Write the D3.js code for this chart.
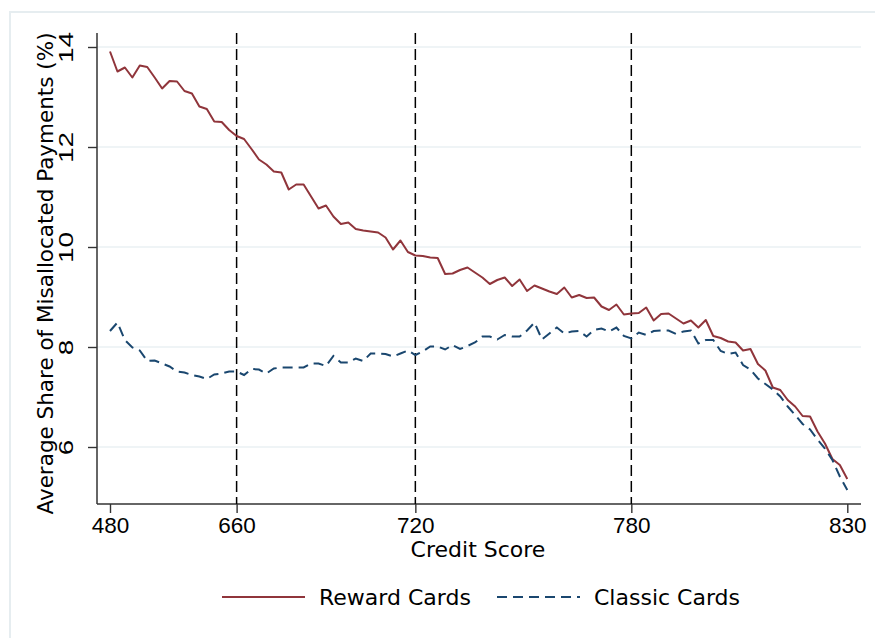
<!DOCTYPE html>
<html>
<head>
<meta charset="utf-8">
<script src="https://cdn.jsdelivr.net/npm/d3@7"></script>
<style>
  html, body { margin: 0; padding: 0; background: #fff; }
  svg { display: block; font-family: "DejaVu Sans", sans-serif; }
</style>
</head>
<body>
<svg id="chart" width="875" height="638"></svg>
<script>
// Credit-score bins (percentile positions 1..100)
const bins = d3.range(1, 101);

// Average share of misallocated payments (%) per bin
const rewardCards = [
  13.91, 13.51, 13.59, 13.39, 13.63, 13.60, 13.39, 13.17, 13.32, 13.31,
  13.12, 13.07, 12.81, 12.76, 12.51, 12.50, 12.34, 12.22, 12.16, 11.96,
  11.75, 11.65, 11.51, 11.49, 11.15, 11.25, 11.25, 11.01, 10.77, 10.83,
  10.61, 10.46, 10.49, 10.36, 10.33, 10.31, 10.29, 10.19, 9.95, 10.13,
  9.90, 9.83, 9.82, 9.79, 9.78, 9.46, 9.47, 9.54, 9.59, 9.49,
  9.39, 9.26, 9.34, 9.39, 9.22, 9.35, 9.12, 9.23, 9.17, 9.11,
  9.06, 9.19, 8.99, 9.04, 8.98, 8.99, 8.81, 8.74, 8.85, 8.65,
  8.67, 8.68, 8.79, 8.53, 8.66, 8.67, 8.57, 8.47, 8.53, 8.39,
  8.54, 8.22, 8.18, 8.11, 8.09, 7.93, 7.96, 7.66, 7.53, 7.19,
  7.14, 6.94, 6.81, 6.62, 6.61, 6.31, 6.07, 5.76, 5.64, 5.36
];

const classicCards = [
  8.32, 8.49, 8.14, 7.99, 7.93, 7.72, 7.73, 7.67, 7.61, 7.51,
  7.49, 7.44, 7.41, 7.36, 7.45, 7.47, 7.51, 7.51, 7.44, 7.56,
  7.55, 7.47, 7.57, 7.59, 7.59, 7.59, 7.59, 7.67, 7.67, 7.62,
  7.82, 7.69, 7.69, 7.77, 7.72, 7.87, 7.87, 7.86, 7.81, 7.87,
  7.93, 7.84, 7.91, 8.01, 8.01, 7.95, 8.04, 7.96, 8.02, 8.09,
  8.21, 8.21, 8.15, 8.24, 8.21, 8.21, 8.33, 8.49, 8.15, 8.27,
  8.39, 8.27, 8.31, 8.32, 8.21, 8.34, 8.37, 8.31, 8.39, 8.22,
  8.17, 8.29, 8.24, 8.32, 8.33, 8.33, 8.26, 8.31, 8.33, 8.07,
  8.14, 8.14, 7.92, 7.86, 7.89, 7.64, 7.55, 7.37, 7.26, 7.15,
  7.01, 6.81, 6.64, 6.46, 6.35, 6.15, 5.97, 5.74, 5.41, 5.14
];

// X ticks: bin position and the credit score shown there
const xTickBins = [1, 18, 42, 71, 100];
const xTickLabels = ["480", "660", "720", "780", "830"];
// Reference lines drawn at these bins
const refLineBins = [18, 42, 71];

const yTicks = [6, 8, 10, 12, 14];

const colors = { reward: "#90353b", classic: "#1a476f" };

const svg = d3.select("#chart");

// Outer graph region frame
svg.append("rect")
  .attr("x", 10).attr("y", 12)
  .attr("width", 900).attr("height", 700)
  .attr("fill", "none")
  .attr("stroke", "#e6edf0")
  .attr("stroke-width", 2);

const plot = { left: 97, right: 861, top: 33, bottom: 504 };

const x = d3.scaleLinear().domain([1, 100]).range([110, 847.3]);
const y = d3.scaleLinear().domain([6, 14]).range([447, 47]);

// Gridlines
svg.append("g")
  .selectAll("line")
  .data(yTicks)
  .join("line")
  .attr("x1", plot.left).attr("x2", plot.right)
  .attr("y1", d => y(d)).attr("y2", d => y(d))
  .attr("stroke", "#eaf1f3")
  .attr("stroke-width", 1.6);

// Y axis
const yAxis = d3.axisLeft(y).tickValues(yTicks).tickSize(9).tickFormat(d3.format("d"));
const gy = svg.append("g").attr("transform", `translate(${plot.left},0)`).call(yAxis);
gy.select(".domain").remove();
gy.selectAll(".tick line").attr("stroke", "#333").attr("stroke-width", 1.4);
gy.selectAll(".tick text").remove();
gy.selectAll(".tick").append("text")
  .attr("transform", "translate(-24,0) rotate(-90) scale(1.4,1)")
  .attr("text-anchor", "middle")
  .attr("fill", "#000")
  .style("font-size", "20px")
  .text(d => d);
svg.append("line")
  .attr("x1", plot.left).attr("x2", plot.left)
  .attr("y1", plot.top).attr("y2", plot.bottom)
  .attr("stroke", "#333").attr("stroke-width", 1.5);

// X axis
const xAxis = d3.axisBottom(x).tickValues(xTickBins).tickSize(9)
  .tickFormat((d, i) => xTickLabels[i]);
const gx = svg.append("g").attr("transform", `translate(0,${plot.bottom})`).call(xAxis);
gx.select(".domain").remove();
gx.selectAll(".tick line").attr("stroke", "#333").attr("stroke-width", 1.4);
gx.selectAll(".tick text")
  .attr("y", 29).attr("dy", null)
  .attr("fill", "#000")
  .style("font-size", "22.5px");
svg.append("line")
  .attr("x1", plot.left).attr("x2", plot.right)
  .attr("y1", plot.bottom).attr("y2", plot.bottom)
  .attr("stroke", "#333").attr("stroke-width", 1.5);

// Vertical reference lines
svg.append("g")
  .selectAll("line")
  .data(refLineBins)
  .join("line")
  .attr("x1", d => x(d)).attr("x2", d => x(d))
  .attr("y1", plot.top).attr("y2", plot.bottom)
  .attr("stroke", "#000")
  .attr("stroke-width", 1.5)
  .attr("stroke-dasharray", "11,5");

// Series
const line = d3.line().x((d, i) => x(bins[i])).y(d => y(d));

svg.append("path")
  .datum(rewardCards)
  .attr("d", line)
  .attr("fill", "none")
  .attr("stroke", colors.reward)
  .attr("stroke-width", 2)
  .attr("stroke-linejoin", "round");

svg.append("path")
  .datum(classicCards)
  .attr("d", line)
  .attr("fill", "none")
  .attr("stroke", colors.classic)
  .attr("stroke-width", 2)
  .attr("stroke-dasharray", "10,6");

// Axis titles
svg.append("text")
  .attr("x", 478).attr("y", 557)
  .attr("text-anchor", "middle")
  .style("font-size", "22px")
  .text("Credit Score");

svg.append("text")
  .attr("transform", `translate(53,${(plot.top + plot.bottom) / 2 + 5}) rotate(-90)`)
  .attr("text-anchor", "middle")
  .style("font-size", "21.5px")
  .text("Average Share of Misallocated Payments (%)");

// Legend
const legendItems = [
  { label: "Reward Cards", color: colors.reward, dash: null, x: 222 },
  { label: "Classic Cards", color: colors.classic, dash: "10,6", x: 497 }
];
const lg = svg.append("g").attr("transform", "translate(0,597)");
legendItems.forEach(it => {
  lg.append("line")
    .attr("x1", it.x).attr("x2", it.x + 83)
    .attr("y1", 0).attr("y2", 0)
    .attr("stroke", it.color)
    .attr("stroke-width", 2)
    .attr("stroke-dasharray", it.dash);
  lg.append("text")
    .attr("x", it.x + 97).attr("y", 8)
    .style("font-size", "22px")
    .text(it.label);
});
</script>
</body>
</html>
